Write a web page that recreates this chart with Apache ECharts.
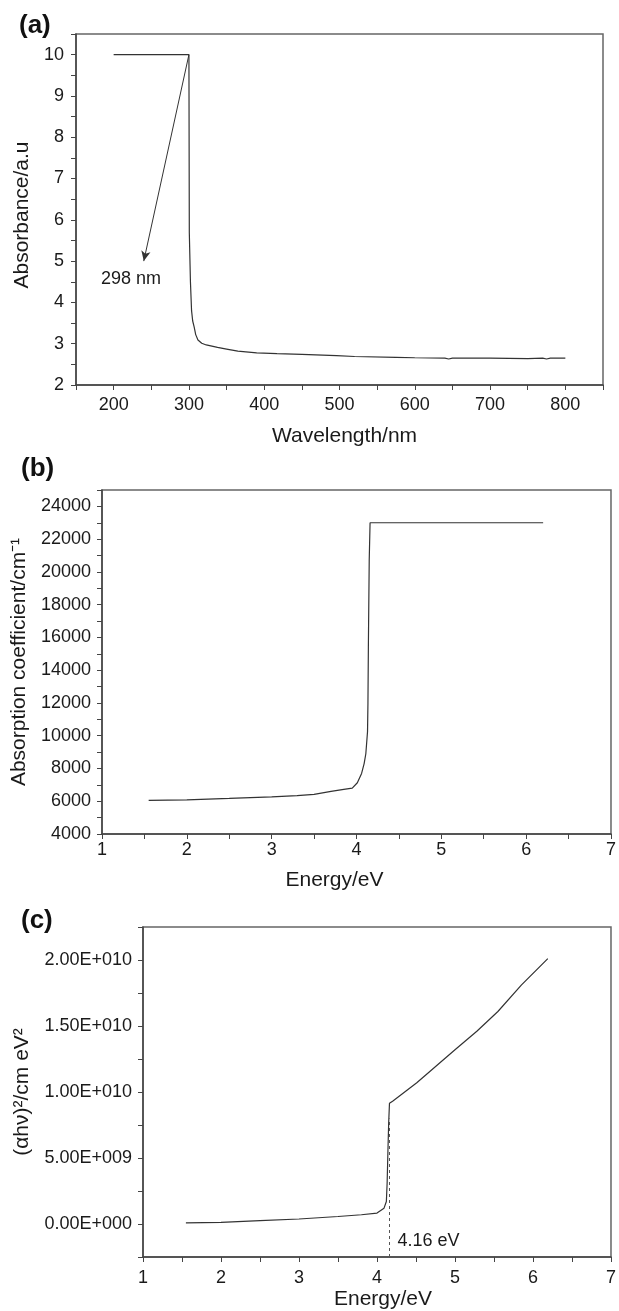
<!DOCTYPE html>
<html>
<head>
<meta charset="utf-8">
<script src="https://cdn.jsdelivr.net/npm/echarts@6/dist/echarts.min.js"></script>
<style>
  html, body { margin: 0; padding: 0; background: #fff; }
  #chart { width: 619px; height: 1311px; }
</style>
</head>
<body>
<div id="chart"></div>
<script>
// (a) Absorbance spectrum
const wavelength = [200, 300, 300.5, 302, 303.5, 305, 307, 309, 312, 317, 323, 338, 350, 365, 390, 417, 450, 496, 520, 575, 600, 640, 645, 650, 700, 750, 770, 775, 780, 800];
const absorbance = [10, 10, 5.7, 4.5, 3.8, 3.55, 3.4, 3.22, 3.09, 3.01, 2.97, 2.91, 2.87, 2.82, 2.78, 2.76, 2.74, 2.71, 2.69, 2.67, 2.66, 2.65, 2.63, 2.65, 2.65, 2.64, 2.65, 2.63, 2.65, 2.65];
const wavelengthTicks = [200, 300, 400, 500, 600, 700, 800];
const absorbanceTicks = [2, 3, 4, 5, 6, 7, 8, 9, 10];
const edgeWavelength = 298;
const edgeArrowFrom = [300, 10];
const edgeArrowTo = [240, 5];
const edgeLabelAt = [223, 4.57];

// (b) Absorption coefficient versus photon energy
const energyB = [1.55, 2.0, 2.5, 3.0, 3.3, 3.5, 3.7, 3.85, 3.95, 4.01, 4.06, 4.09, 4.11, 4.13, 4.135, 4.14, 4.15, 4.16, 6.2];
const alphaCoef = [6050, 6080, 6170, 6270, 6340, 6420, 6600, 6720, 6800, 7130, 7700, 8300, 8900, 10250, 12000, 15400, 20700, 23000, 23000];
const alphaTicks = [4000, 6000, 8000, 10000, 12000, 14000, 16000, 18000, 20000, 22000, 24000];
const energyTicks = [1, 2, 3, 4, 5, 6, 7];

// (c) Tauc plot (alpha*h*nu)^2 versus photon energy
const energyC = [1.55, 2.0, 2.5, 3.0, 3.5, 3.8, 4.0, 4.09, 4.12, 4.13, 4.14, 4.15, 4.16, 4.2, 4.51, 5.0, 5.28, 5.55, 5.85, 6.19];
const taucValues = [0.08e9, 0.12e9, 0.25e9, 0.38e9, 0.57e9, 0.7e9, 0.83e9, 1.2e9, 1.7e9, 3.1e9, 5.5e9, 7.7e9, 9.15e9, 9.3e9, 10.7e9, 13.2e9, 14.6e9, 16.1e9, 18.1e9, 20.1e9];
const taucTicks = [0, 5e9, 1e10, 1.5e10, 2e10];
const taucTickLabels = ['0.00E+000', '5.00E+009', '1.00E+010', '1.50E+010', '2.00E+010'];
const bandGap = 4.16;
const bandGapLineTop = 8e9;
const bandGapLabelY = -1.3e9;

const FONT = "'Liberation Sans', Arial, Helvetica, sans-serif";
const INK = '#1a1a1a';
const CURVE = '#333';

function pickLabel(ticks, labels) {
  return function (v) {
    const i = ticks.findIndex(t => Math.abs(t - v) <= 1e-9 * Math.max(1, Math.abs(t)));
    if (i < 0) return '';
    return labels ? labels[i] : String(ticks[i]);
  };
}

const axisCommon = {
  axisLine: { show: true, onZero: false, lineStyle: { color: '#444', width: 1.5 } },
  axisTick: { show: true, length: 5, lineStyle: { color: '#444', width: 1 } },
  splitLine: { show: false },
  nameTextStyle: { color: INK, fontSize: 21, fontFamily: FONT }
};

function labelStyle(margin, formatter) {
  return { color: INK, fontSize: 18, fontFamily: FONT, margin: margin, formatter: formatter, showMinLabel: true, showMaxLabel: true, hideOverlap: false };
}

const chart = echarts.init(document.getElementById('chart'), null, { renderer: 'canvas' });

const gridBase = { show: true, borderColor: '#666', borderWidth: 1.5, backgroundColor: 'transparent', containLabel: false };

const option = {
  animation: false,
  backgroundColor: '#fff',
  grid: [
    Object.assign({ left: 76, top: 34, width: 527, height: 351 }, gridBase),
    Object.assign({ left: 102, top: 490, width: 510, height: 344 }, gridBase),
    Object.assign({ left: 143, top: 927, width: 473, height: 330 }, gridBase)
  ],
  xAxis: [
    Object.assign({}, axisCommon, {
      gridIndex: 0, type: 'value', min: 150, max: 850, interval: 50,
      name: 'Wavelength/nm', nameLocation: 'middle', nameGap: 41,
      nameTextStyle: Object.assign({}, axisCommon.nameTextStyle, { padding: [0, 0, 0, 10] }),
      axisLabel: labelStyle(11, pickLabel(wavelengthTicks))
    }),
    Object.assign({}, axisCommon, {
      gridIndex: 1, type: 'value', min: 1, max: 7, interval: 0.5,
      name: 'Energy/eV', nameLocation: 'middle', nameGap: 36,
      nameTextStyle: Object.assign({}, axisCommon.nameTextStyle, { padding: [0, 44, 0, 0] }),
      axisLabel: labelStyle(7, pickLabel(energyTicks))
    }),
    Object.assign({}, axisCommon, {
      gridIndex: 2, type: 'value', min: 1, max: 7, interval: 0.5,
      name: 'Energy/eV', nameLocation: 'middle', nameGap: 32,
      nameTextStyle: Object.assign({}, axisCommon.nameTextStyle, { padding: [0, 0, 0, 12] }),
      axisLabel: labelStyle(12, pickLabel(energyTicks))
    })
  ],
  yAxis: [
    Object.assign({}, axisCommon, {
      gridIndex: 0, type: 'value', min: 2, max: 10.5, interval: 0.5,
      name: 'Absorbance/a.u', nameLocation: 'middle', nameGap: 41,
      nameTextStyle: Object.assign({}, axisCommon.nameTextStyle, { padding: [0, 11, 0, 0] }),
      axisLabel: labelStyle(12, pickLabel(absorbanceTicks))
    }),
    Object.assign({}, axisCommon, {
      gridIndex: 1, type: 'value', min: 4000, max: 25000, interval: 1000,
      name: 'Absorption coefficient/cm\u207B\u00B9', nameLocation: 'middle', nameGap: 65,
      axisLabel: labelStyle(11, pickLabel(alphaTicks))
    }),
    Object.assign({}, axisCommon, {
      gridIndex: 2, type: 'value', min: -2.5e9, max: 2.25e10, interval: 2.5e9,
      name: '(\u03B1h\u03BD)\u00B2/cm eV\u00B2', nameLocation: 'middle', nameGap: 110,
      axisLabel: labelStyle(11, pickLabel(taucTicks, taucTickLabels))
    })
  ],
  graphic: [
    { type: 'text', left: 19, top: 13, style: { text: '(a)', fill: '#111', font: 'bold 26px ' + FONT } },
    { type: 'text', left: 21, top: 456, style: { text: '(b)', fill: '#111', font: 'bold 26px ' + FONT } },
    { type: 'text', left: 21, top: 908, style: { text: '(c)', fill: '#111', font: 'bold 26px ' + FONT } }
  ],
  series: [
    {
      type: 'line', xAxisIndex: 0, yAxisIndex: 0, showSymbol: false, symbol: 'none',
      lineStyle: { color: CURVE, width: 1.2 },
      data: wavelength.map((w, i) => [w, absorbance[i]]),
      markLine: {
        silent: true, symbol: ['none', 'arrow'], symbolSize: [7, 10],
        label: { show: false },
        lineStyle: { color: CURVE, width: 1, type: 'solid' },
        data: [[{ coord: edgeArrowFrom }, { coord: edgeArrowTo }]]
      }
    },
    {
      type: 'scatter', xAxisIndex: 0, yAxisIndex: 0, symbolSize: 0, silent: true,
      itemStyle: { opacity: 1 },
      data: [edgeLabelAt],
      label: { show: true, position: 'inside', opacity: 1, formatter: edgeWavelength + ' nm', color: INK, fontSize: 18, fontFamily: FONT }
    },
    {
      type: 'line', xAxisIndex: 1, yAxisIndex: 1, showSymbol: false, symbol: 'none',
      lineStyle: { color: CURVE, width: 1.2 },
      data: energyB.map((e, i) => [e, alphaCoef[i]])
    },
    {
      type: 'line', xAxisIndex: 2, yAxisIndex: 2, showSymbol: false, symbol: 'none',
      lineStyle: { color: CURVE, width: 1.2 },
      data: energyC.map((e, i) => [e, taucValues[i]]),
      markLine: {
        silent: true, symbol: ['none', 'none'],
        label: { show: false },
        lineStyle: { color: '#555', width: 1, type: [3, 3] },
        data: [[{ coord: [bandGap, -2.5e9] }, { coord: [bandGap, bandGapLineTop] }]]
      }
    },
    {
      type: 'scatter', xAxisIndex: 2, yAxisIndex: 2, symbolSize: 0, silent: true,
      itemStyle: { opacity: 1 },
      data: [[bandGap, bandGapLabelY]],
      label: { show: true, position: 'right', distance: 8, opacity: 1, formatter: bandGap.toFixed(2) + ' eV', color: INK, fontSize: 18, fontFamily: FONT }
    }
  ]
};

chart.setOption(option);
</script>
</body>
</html>
